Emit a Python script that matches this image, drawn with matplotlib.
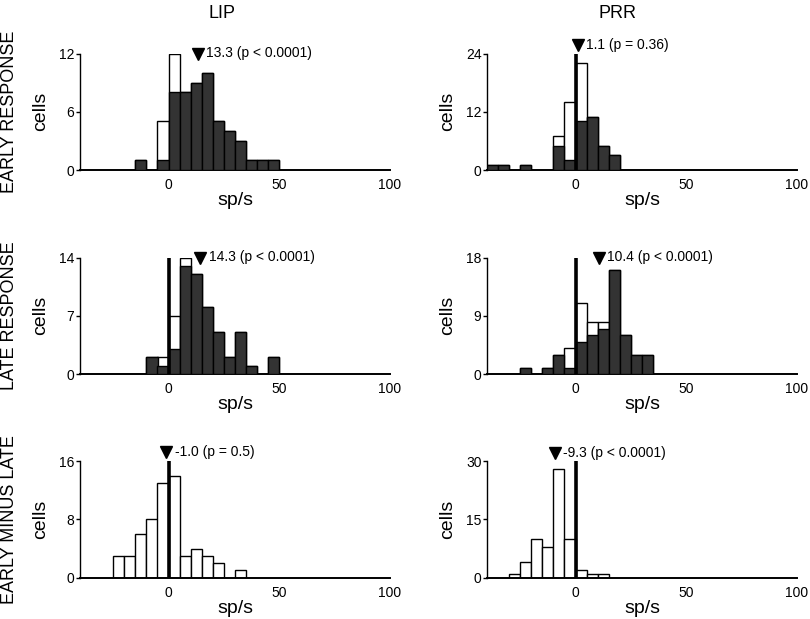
import numpy as np
import matplotlib
matplotlib.use('Agg')
from matplotlib import pyplot as plt

plt.rcParams['font.family'] = ['Liberation Sans', 'DejaVu Sans']

# lower edges of the 5 sp/s bins
bin_left = np.arange(-40, 50, 5)

# counts per bin: all cells (white) and significant cells (dark)
lip_early_all = [0, 0, 0, 0, 0, 1, 0, 5, 12, 8, 9, 10, 5, 4, 3, 1, 1, 1]
lip_early_sig = [0, 0, 0, 0, 0, 1, 0, 1, 8, 8, 9, 10, 5, 4, 3, 1, 1, 1]
prr_early_all = [1, 1, 0, 1, 0, 0, 7, 14, 22, 11, 5, 3, 0, 0, 0, 0, 0, 0]
prr_early_sig = [1, 1, 0, 1, 0, 0, 5, 2, 10, 11, 5, 3, 0, 0, 0, 0, 0, 0]
lip_late_all = [0, 0, 0, 0, 0, 0, 2, 2, 7, 14, 12, 8, 5, 2, 5, 1, 0, 2]
lip_late_sig = [0, 0, 0, 0, 0, 0, 2, 1, 3, 13, 12, 8, 5, 2, 5, 1, 0, 2]
prr_late_all = [0, 0, 0, 1, 0, 1, 3, 4, 11, 8, 8, 16, 6, 3, 3, 0, 0, 0]
prr_late_sig = [0, 0, 0, 1, 0, 1, 3, 1, 5, 6, 7, 16, 6, 3, 3, 0, 0, 0]
lip_diff_all = [0, 0, 0, 3, 3, 6, 8, 13, 14, 3, 4, 3, 2, 0, 1, 0, 0, 0]
prr_diff_all = [0, 0, 1, 4, 10, 8, 28, 10, 2, 1, 1, 0, 0, 0, 0, 0, 0, 0]

# population means and their labels
means = [13.3, 1.1, 14.3, 10.4, -1.0, -9.3]
mean_labels = ['13.3 (p < 0.0001)', '1.1 (p = 0.36)', '14.3 (p < 0.0001)',
               '10.4 (p < 0.0001)', '-1.0 (p = 0.5)', '-9.3 (p < 0.0001)']
y_max = [12, 24, 14, 18, 16, 30]

col_titles = ['LIP', 'PRR']
row_titles = ['EARLY RESPONSE', 'LATE RESPONSE', 'EARLY MINUS LATE']

panels = [
    (lip_early_all, lip_early_sig),
    (prr_early_all, prr_early_sig),
    (lip_late_all, lip_late_sig),
    (prr_late_all, prr_late_sig),
    (lip_diff_all, None),
    (prr_diff_all, None),
]
zero_line = [False, True, True, True, True, True]
marker_lift = [0.0, 9, 0.0, 0.0, 9, 8]   # pixels above top of axis

fig = plt.figure(figsize=(8.1, 6.19), dpi=100)
W, H = 810., 619.
lefts = [80, 487]
bottoms = [170, 374, 577.7]
aw, ah = 310, 116.5

for i, (tot, sig) in enumerate(panels):
    r, c = divmod(i, 2)
    ax = fig.add_axes([lefts[c] / W, 1 - bottoms[r] / H, aw / W, ah / H])
    tot = np.array(tot)
    m = tot > 0
    ax.bar(bin_left[m], tot[m], width=5, align='edge', color='white',
           edgecolor='black', linewidth=1, zorder=2)
    if sig is not None:
        sig = np.array(sig)
        m = sig > 0
        ax.bar(bin_left[m], sig[m], width=5, align='edge', color='#333333',
               edgecolor='black', linewidth=1, zorder=3)
    ym = y_max[i]
    if zero_line[i]:
        ax.plot([0, 0], [0, ym], color='black', lw=2.6, zorder=4,
                solid_capstyle='butt')
    ax.set_xlim(-40, 100)
    ax.set_ylim(0, ym)
    ax.set_xticks([0, 50, 100])
    ax.set_yticks([0, ym // 2, ym])
    ax.tick_params(axis='x', length=0, labelsize=10, pad=6)
    ax.tick_params(axis='y', length=3, width=1, labelsize=10, pad=1)
    for s in ['top', 'right']:
        ax.spines[s].set_visible(False)
    ax.spines['bottom'].set_linewidth(1.4)
    ax.spines['left'].set_linewidth(1)
    ax.set_xlabel('sp/s', fontsize=14, labelpad=0)
    ax.set_ylabel('cells', fontsize=14, labelpad=7)

    # mean marker and label
    yt = ym + marker_lift[i] * ym / ah
    ax.plot(means[i], yt, marker='v', ms=9, color='black', clip_on=False,
            zorder=5)
    ax.annotate(mean_labels[i], (means[i], yt), xytext=(6, 0),
                textcoords='offset points', va='center', ha='left',
                fontsize=10, annotation_clip=False)

fig.text(222 / W, 1 - 14 / H, col_titles[0], ha='center', va='center', fontsize=13)
fig.text(617 / W, 1 - 14 / H, col_titles[1], ha='center', va='center', fontsize=13)
for r, t in enumerate(row_titles):
    yc = bottoms[r] - ah / 2
    fig.text(10 / W, 1 - yc / H, t, rotation=90, ha='center', va='center',
             fontsize=13)

plt.savefig('out.png', dpi=100)
